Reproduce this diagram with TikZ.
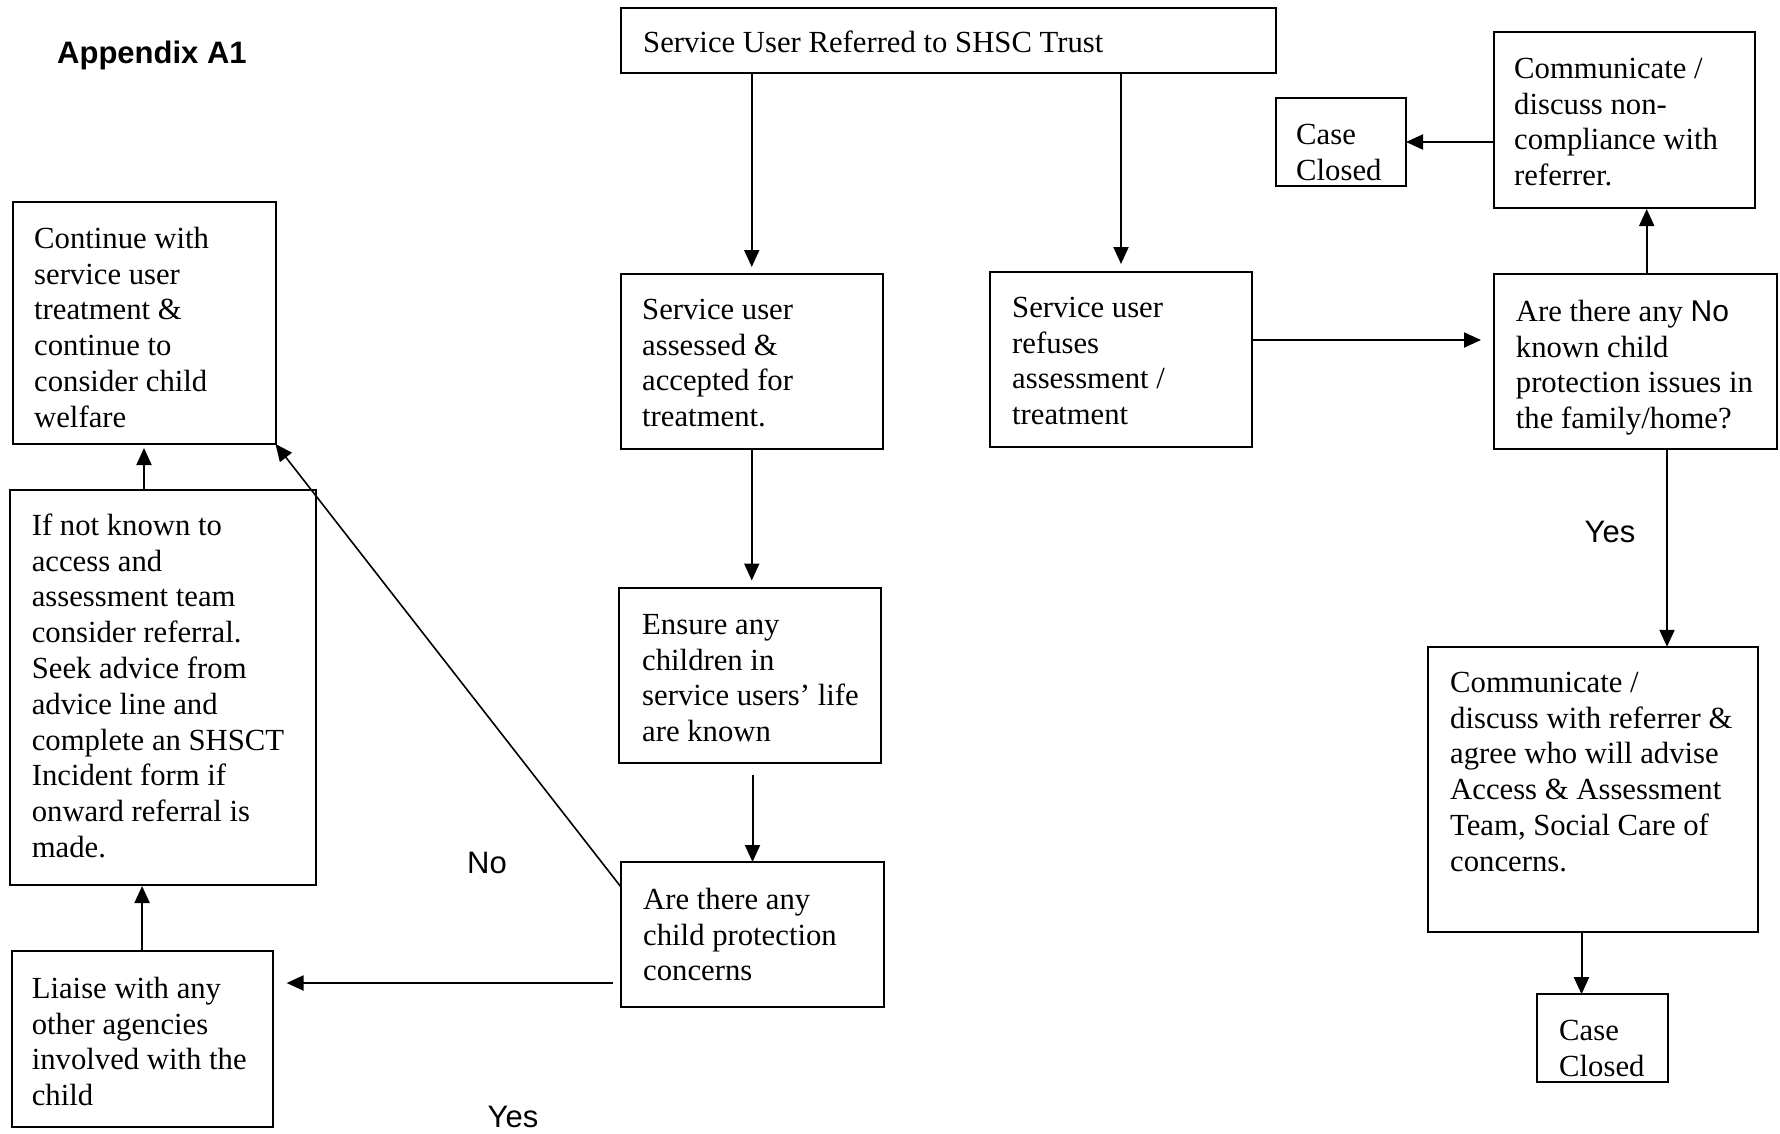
\documentclass[tikz,border=0pt]{standalone}
\usepackage{fontspec}
\setmainfont{Liberation Serif}
\newfontfamily\lsans{Liberation Sans}
\usetikzlibrary{arrows.meta}
\newcommand\mystrut{\rule{0pt}{25pt}}
\begin{document}
\begin{tikzpicture}[x=1pt,y=-1pt,
  box/.style={draw, line width=2pt, inner sep=0pt, outer sep=0pt},
  txt/.style={inner sep=0pt, anchor=north west, align=left, font=\fontsize{30.7}{35.8}\selectfont},
  lbl/.style={inner sep=0pt, font=\lsans\fontsize{31}{36}\selectfont},
  arr/.style={line width=2pt, -{Triangle[length=17pt,width=15pt]}},
  thinarr/.style={line width=1.6pt, -{Triangle[length=17pt,width=15pt]}}
]
\useasboundingbox[fill=white] (0,0) rectangle (1780,1133);

% boxes
\node[box, minimum width=655pt, minimum height=65pt] (top) at (948.5,40.5) {};
\node[box, minimum width=130pt, minimum height=88pt] (caseA) at (1341,142) {};
\node[box, minimum width=261pt, minimum height=176pt] (commA) at (1624.5,120) {};
\node[box, minimum width=263pt, minimum height=242pt] (cont) at (144,323) {};
\node[box, minimum width=262.5pt, minimum height=175pt] (assessed) at (751.75,361.5) {};
\node[box, minimum width=262pt, minimum height=175pt] (refuses) at (1121,359.5) {};
\node[box, minimum width=283pt, minimum height=175pt] (areA) at (1635.5,361.5) {};
\node[box, minimum width=306pt, minimum height=395pt] (ifnot) at (163.3,687.5) {};
\node[box, minimum width=262pt, minimum height=175.5pt] (ensure) at (750,675.25) {};
\node[box, minimum width=263pt, minimum height=145pt] (areB) at (752.5,934.5) {};
\node[box, minimum width=261pt, minimum height=176pt] (liaise) at (142.1,1038.8) {};
\node[box, minimum width=330pt, minimum height=285pt] (commB) at (1593,789.3) {};
\node[box, minimum width=131pt, minimum height=88pt] (caseB) at (1602.5,1038.2) {};

% texts
\node[txt] (topT) at (643,27) {\mystrut Service User Referred to SHSC Trust};
\node[txt] (caseAT) at (1296,119) {\mystrut Case\\Closed};
\node[txt] (commAT) at (1514,53) {\mystrut Communicate /\\discuss non-\\compliance with\\referrer.};
\node[txt] (contT) at (34,223) {\mystrut Continue with\\service user\\treatment \&\\continue to\\consider child\\welfare};
\node[txt] (assessedT) at (642,294) {\mystrut Service user\\assessed \&\\accepted for\\treatment.};
\node[txt] (refusesT) at (1012,292) {\mystrut Service user\\refuses\\assessment /\\treatment};
\node[txt] (areAT) at (1515.7,296) {\mystrut Are there any {\lsans\fontsize{30}{35.8}\selectfont No}\\known child\\protection issues in\\the family/home?};
\node[txt] (ifnotT) at (31.6,510) {\mystrut If not known to\\access and\\assessment team\\consider referral.\\Seek advice from\\advice line and\\complete an SHSCT\\Incident form if\\onward referral is\\made.};
\node[txt] (ensureT) at (642,609) {\mystrut Ensure any\\children in\\service users’ life\\are known};
\node[txt] (areBT) at (643,884) {\mystrut Are there any\\child protection\\concerns};
\node[txt] (liaiseT) at (31.6,973) {\mystrut Liaise with any\\other agencies\\involved with the\\child};
\node[txt] (commBT) at (1450,667) {\mystrut Communicate /\\discuss with referrer \&\\agree who will advise\\Access \& Assessment\\Team, Social Care of\\concerns.};
\node[txt] (caseBT) at (1559,1015) {\mystrut Case\\Closed};

% labels
\node[lbl, font=\lsans\bfseries\fontsize{31}{36}\selectfont, anchor=base west] (app) at (57,63.3) {Appendix A1};
\node[lbl] (noL) at (487,863) {No};
\node[lbl] (yesL) at (513,1117) {Yes};
\node[lbl] (yesR) at (1610,532) {Yes};

% connector helpers
\coordinate (yB) at (0,983);
\coordinate (yD) at (0,887);
\coordinate (yR) at (0,340);
\coordinate (xU) at (1646.7,0);
\coordinate (xV) at (1667,0);
\coordinate (xW) at (1581.5,0);

% connectors
\draw[arr, shorten >=7pt] (top.south -| assessed.north) -- (assessed.north);
\draw[arr, shorten >=8pt] (top.south -| refuses.north) -- (refuses.north);
\draw[arr, shorten >=7pt] (assessed.south) -- (assessed.south |- ensure.north);
\draw[arr, shorten <=12pt] (areB.north |- ensure.south) -- (areB.north);
\draw[arr, shorten <=8pt, shorten >=14pt] (areB.west |- yB) -- (liaise.east |- yB);
\draw[arr, shorten >=1pt] (liaise.north) -- (liaise.north |- ifnot.south);
\draw[arr, shorten >=4pt] (ifnot.north -| cont.south) -- (cont.south);
\draw[thinarr] (areB.west |- yD) -- (cont.south east);
\draw[arr, shorten >=13pt] (refuses.east |- yR) -- (areA.west |- yR);
\draw[arr, shorten >=1pt] (areA.north -| xU) -- (commA.south -| xU);
\draw[arr] (commA.west |- caseA.east) -- (caseA.east);
\draw[arr] (areA.south -| xV) -- (commB.north -| xV);
\draw[arr] (commB.south -| xW) -- (caseB.north -| xW);
\end{tikzpicture}
\end{document}
